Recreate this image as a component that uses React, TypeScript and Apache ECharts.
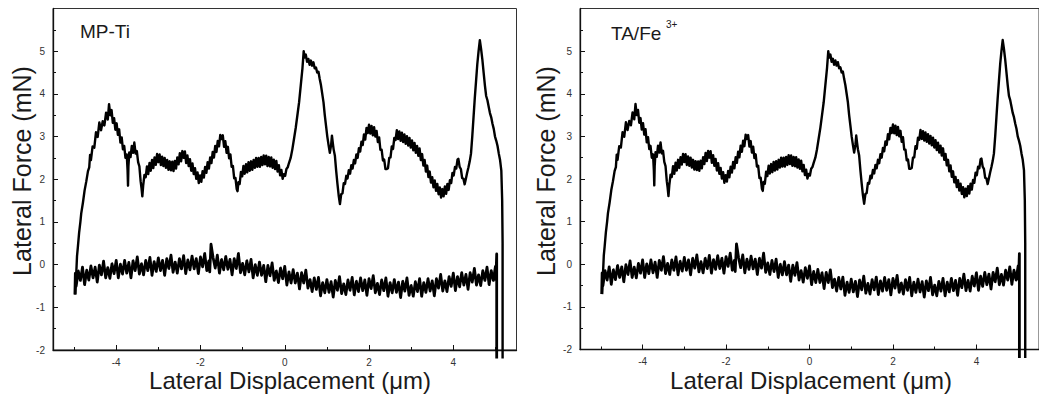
import React, { useEffect, useRef } from "react";
import * as echarts from "echarts";

// Tick values
const dispMajorTicks = [-4, -2, 0, 2, 4];
const dispMinorTicks = [-5, -3, -1, 1, 3, 5];
const forceMajorTicks = [-2, -1, 0, 1, 2, 3, 4, 5];
const forceMinorTicks = [-1.5, -0.5, 0.5, 1.5, 2.5, 3.5, 4.5, 5.5];

const panelTitles = ["MP-Ti", "TA/Fe"];
const panelSups = ["", "3+"];
const xAxisTitle = "Lateral Displacement (\u03bcm)";
const yAxisTitle = "Lateral Force (mN)";

// Forward scan (upper trace): [displacement µm, lateral force mN]
const forwardScan: [number, number][] = [
  [-4.97,-0.7],[-4.95,-0.25],[-4.93,0.2],[-4.91,0.41],[-4.88,0.75],[-4.85,1.0],[-4.83,1.2],[-4.79,1.45],
  [-4.75,1.74],[-4.71,1.95],[-4.67,2.19],[-4.64,2.28],[-4.62,2.57],[-4.6,2.45],[-4.56,2.77],[-4.52,2.74],
  [-4.48,3.1],[-4.44,2.99],[-4.4,3.33],[-4.36,3.15],[-4.32,3.36],[-4.28,3.26],[-4.24,3.56],[-4.2,3.4],
  [-4.17,3.76],[-4.14,3.5],[-4.11,3.62],[-4.08,3.32],[-4.05,3.43],[-4.02,3.16],[-3.99,3.31],[-3.96,3.04],
  [-3.93,3.17],[-3.9,2.86],[-3.87,2.98],[-3.84,2.7],[-3.81,2.78],[-3.78,2.5],[-3.75,2.58],[-3.73,2.2],
  [-3.72,1.85],[-3.71,2.3],[-3.69,2.63],[-3.66,2.52],[-3.63,2.78],[-3.6,2.62],[-3.57,2.86],[-3.54,2.6],
  [-3.51,2.66],[-3.48,2.4],[-3.45,2.3],[-3.42,1.95],[-3.4,1.8],[-3.38,1.6],[-3.36,1.85],[-3.33,2.1],
  [-3.3,2.05],[-3.27,2.3],[-3.24,2.12],[-3.21,2.38],[-3.18,2.2],[-3.15,2.45],[-3.12,2.26],[-3.09,2.51],
  [-3.06,2.34],[-3.03,2.59],[-3.0,2.4],[-2.97,2.58],[-2.94,2.33],[-2.91,2.53],[-2.88,2.31],[-2.85,2.5],
  [-2.82,2.27],[-2.79,2.45],[-2.76,2.22],[-2.73,2.42],[-2.7,2.21],[-2.67,2.41],[-2.64,2.19],[-2.61,2.43],
  [-2.58,2.25],[-2.55,2.51],[-2.52,2.35],[-2.49,2.61],[-2.46,2.42],[-2.43,2.66],[-2.4,2.5],[-2.37,2.65],
  [-2.34,2.38],[-2.31,2.56],[-2.28,2.31],[-2.25,2.47],[-2.22,2.2],[-2.19,2.37],[-2.16,2.12],[-2.13,2.26],
  [-2.1,2.01],[-2.07,2.16],[-2.04,1.91],[-2.01,2.09],[-1.98,1.94],[-1.95,2.19],[-1.92,2.04],[-1.89,2.29],
  [-1.86,2.15],[-1.83,2.4],[-1.8,2.25],[-1.77,2.51],[-1.74,2.38],[-1.71,2.64],[-1.68,2.51],[-1.65,2.78],
  [-1.62,2.64],[-1.59,2.9],[-1.56,2.77],[-1.53,3.04],[-1.5,2.94],[-1.47,3.03],[-1.44,2.76],[-1.41,2.89],
  [-1.38,2.62],[-1.35,2.76],[-1.32,2.49],[-1.29,2.58],[-1.26,2.29],[-1.23,2.31],[-1.2,2.02],[-1.17,2.03],
  [-1.14,1.77],[-1.12,1.72],[-1.1,1.93],[-1.07,1.89],[-1.04,2.17],[-1.01,2.07],[-0.98,2.31],[-0.95,2.13],
  [-0.92,2.35],[-0.89,2.16],[-0.86,2.4],[-0.83,2.2],[-0.8,2.42],[-0.77,2.22],[-0.74,2.45],[-0.71,2.27],
  [-0.68,2.5],[-0.65,2.29],[-0.62,2.5],[-0.59,2.29],[-0.56,2.52],[-0.53,2.33],[-0.5,2.56],[-0.47,2.35],
  [-0.44,2.55],[-0.41,2.31],[-0.38,2.52],[-0.35,2.3],[-0.32,2.51],[-0.29,2.27],[-0.26,2.46],[-0.23,2.24],
  [-0.2,2.43],[-0.17,2.18],[-0.14,2.33],[-0.11,2.09],[-0.08,2.22],[-0.05,2.01],[-0.02,2.12],[0.01,2.08],
  [0.04,2.24],[0.07,2.28],[0.1,2.38],[0.14,2.5],[0.18,2.7],[0.22,2.95],[0.26,3.2],[0.3,3.5],
  [0.34,3.8],[0.38,4.2],[0.42,4.6],[0.45,5.0],[0.47,4.85],[0.5,4.92],[0.53,4.75],[0.56,4.82],
  [0.59,4.68],[0.62,4.78],[0.65,4.66],[0.68,4.74],[0.71,4.6],[0.74,4.62],[0.77,4.5],[0.8,4.52],
  [0.83,4.35],[0.86,4.2],[0.89,4.0],[0.92,3.8],[0.95,3.5],[0.98,3.25],[1.01,3.0],[1.04,2.8],
  [1.07,2.62],[1.1,2.8],[1.12,3.02],[1.14,2.85],[1.16,2.7],[1.19,2.55],[1.22,2.2],[1.25,1.9],
  [1.28,1.62],[1.31,1.42],[1.34,1.65],[1.37,1.67],[1.4,1.91],[1.43,1.89],[1.46,2.08],[1.49,2.02],
  [1.52,2.21],[1.55,2.13],[1.58,2.33],[1.61,2.25],[1.64,2.45],[1.67,2.37],[1.7,2.58],[1.73,2.5],
  [1.76,2.73],[1.79,2.65],[1.82,2.88],[1.85,2.8],[1.88,3.05],[1.91,2.93],[1.94,3.2],[1.97,3.08],
  [2.0,3.28],[2.03,3.07],[2.06,3.25],[2.09,3.03],[2.12,3.22],[2.15,3.0],[2.18,3.13],[2.21,2.87],
  [2.24,2.98],[2.27,2.69],[2.3,2.69],[2.33,2.44],[2.36,2.46],[2.39,2.24],[2.42,2.24],[2.45,2.26],
  [2.48,2.5],[2.51,2.51],[2.54,2.77],[2.57,2.71],[2.6,2.97],[2.63,2.92],[2.66,3.15],[2.69,2.94],
  [2.72,3.12],[2.75,2.9],[2.78,3.09],[2.81,2.87],[2.84,3.05],[2.87,2.83],[2.9,3.01],[2.93,2.79],
  [2.96,2.97],[2.99,2.74],[3.02,2.91],[3.05,2.68],[3.08,2.85],[3.11,2.62],[3.14,2.78],[3.17,2.55],
  [3.2,2.72],[3.23,2.45],[3.26,2.59],[3.29,2.32],[3.32,2.45],[3.35,2.18],[3.38,2.32],[3.41,2.05],
  [3.44,2.18],[3.47,1.92],[3.5,2.05],[3.53,1.81],[3.56,1.97],[3.59,1.73],[3.62,1.89],[3.65,1.65],
  [3.68,1.81],[3.71,1.57],[3.74,1.77],[3.77,1.6],[3.8,1.83],[3.83,1.66],[3.86,1.89],[3.89,1.75],
  [3.92,1.98],[3.95,1.91],[3.98,2.15],[4.01,2.09],[4.04,2.29],[4.07,2.25],[4.1,2.46],[4.12,2.48],
  [4.15,2.29],[4.18,2.24],[4.21,2.03],[4.24,2.01],[4.27,1.88],[4.3,2.02],[4.33,2.16],[4.36,2.28],
  [4.39,2.42],[4.42,2.6],[4.45,3.0],[4.48,3.45],[4.51,3.9],[4.54,4.3],[4.57,4.7],[4.6,5.0],
  [4.63,5.26],[4.66,5.05],[4.69,4.8],[4.72,4.5],[4.75,4.2],[4.78,3.95],[4.81,3.85],[4.84,3.7],
  [4.87,3.55],[4.9,3.45],[4.93,3.3],[4.96,3.18],[4.99,3.0],[5.02,2.9],[5.05,2.78],[5.08,2.6],
  [5.11,2.45],[5.14,2.2],[5.16,1.5],[5.17,0.5],[5.17,-2.2]
];

// Reverse scan (lower trace), from right to left
const reverseScan: [number, number][] = [
  [5.03,-2.2],[5.03,0.25],[5.01,-0.35],[5.0,-0.04],[4.95,-0.37],[4.9,-0.14],[4.85,-0.47],[4.8,-0.06],
  [4.75,-0.37],[4.7,-0.14],[4.65,-0.49],[4.6,-0.24],[4.55,-0.48],[4.5,-0.09],[4.45,-0.41],[4.4,-0.19],
  [4.35,-0.58],[4.3,-0.23],[4.25,-0.48],[4.2,-0.19],[4.15,-0.52],[4.1,-0.28],[4.05,-0.61],[4.0,-0.2],
  [3.95,-0.51],[3.9,-0.28],[3.85,-0.63],[3.8,-0.38],[3.75,-0.62],[3.7,-0.23],[3.65,-0.55],[3.6,-0.33],
  [3.55,-0.73],[3.5,-0.38],[3.45,-0.62],[3.4,-0.33],[3.35,-0.65],[3.3,-0.42],[3.25,-0.74],[3.2,-0.33],
  [3.15,-0.63],[3.1,-0.4],[3.05,-0.74],[3.0,-0.49],[2.95,-0.72],[2.9,-0.31],[2.85,-0.62],[2.8,-0.39],
  [2.75,-0.77],[2.7,-0.41],[2.65,-0.65],[2.6,-0.35],[2.55,-0.66],[2.5,-0.42],[2.45,-0.74],[2.4,-0.31],
  [2.35,-0.61],[2.3,-0.36],[2.25,-0.7],[2.2,-0.44],[2.15,-0.66],[2.1,-0.26],[2.05,-0.56],[2.0,-0.33],
  [1.95,-0.72],[1.9,-0.36],[1.85,-0.61],[1.8,-0.31],[1.75,-0.63],[1.7,-0.39],[1.65,-0.71],[1.6,-0.3],
  [1.55,-0.6],[1.5,-0.36],[1.45,-0.7],[1.4,-0.45],[1.35,-0.68],[1.3,-0.28],[1.25,-0.6],[1.2,-0.37],
  [1.15,-0.76],[1.1,-0.4],[1.05,-0.65],[1.0,-0.35],[0.95,-0.66],[0.9,-0.42],[0.85,-0.73],[0.8,-0.3],
  [0.75,-0.58],[0.7,-0.31],[0.65,-0.63],[0.6,-0.35],[0.55,-0.55],[0.5,-0.13],[0.45,-0.43],[0.4,-0.19],
  [0.35,-0.57],[0.3,-0.2],[0.25,-0.43],[0.2,-0.12],[0.15,-0.43],[0.1,-0.17],[0.05,-0.48],[0.0,-0.04],
  [-0.05,-0.33],[-0.1,-0.08],[-0.15,-0.42],[-0.2,-0.15],[-0.25,-0.37],[-0.3,0.04],[-0.35,-0.26],[-0.4,-0.02],
  [-0.45,-0.4],[-0.5,-0.02],[-0.55,-0.25],[-0.6,0.06],[-0.65,-0.25],[-0.7,0.0],[-0.75,-0.31],[-0.8,0.12],
  [-0.85,-0.17],[-0.9,0.09],[-0.95,-0.24],[-1.0,0.03],[-1.05,-0.19],[-1.1,0.26],[-1.15,-0.09],[-1.2,0.14],
  [-1.25,-0.24],[-1.3,0.12],[-1.35,-0.11],[-1.4,0.19],[-1.45,-0.12],[-1.5,0.12],[-1.55,-0.2],[-1.6,0.22],
  [-1.65,-0.08],[-1.7,0.16],[-1.75,0.48],[-1.78,-0.17],[-1.8,0.09],[-1.85,-0.14],[-1.9,0.26],[-1.95,-0.05],
  [-2.0,0.18],[-2.05,-0.21],[-2.1,0.14],[-2.15,-0.1],[-2.2,0.2],[-2.25,-0.12],[-2.3,0.11],[-2.35,-0.21],
  [-2.4,0.21],[-2.45,-0.1],[-2.5,0.14],[-2.55,-0.2],[-2.6,0.06],[-2.65,-0.18],[-2.7,0.22],[-2.75,-0.09],
  [-2.8,0.14],[-2.85,-0.25],[-2.9,0.1],[-2.95,-0.14],[-3.0,0.16],[-3.05,-0.16],[-3.1,0.07],[-3.15,-0.25],
  [-3.2,0.17],[-3.25,-0.14],[-3.3,0.1],[-3.35,-0.24],[-3.4,0.02],[-3.45,-0.22],[-3.5,0.18],[-3.55,-0.14],
  [-3.6,0.09],[-3.65,-0.31],[-3.7,0.05],[-3.75,-0.2],[-3.8,0.1],[-3.85,-0.22],[-3.9,0.01],[-3.95,-0.31],
  [-4.0,0.1],[-4.05,-0.21],[-4.1,0.02],[-4.15,-0.32],[-4.2,-0.07],[-4.25,-0.31],[-4.3,0.08],[-4.35,-0.24],
  [-4.4,-0.01],[-4.45,-0.41],[-4.5,-0.06],[-4.55,-0.31],[-4.6,-0.03],[-4.65,-0.36],[-4.7,-0.13],[-4.75,-0.47],
  [-4.8,-0.06],[-4.85,-0.37],[-4.9,-0.15],[-4.95,-0.5],[-4.97,-0.2],[-4.98,-0.7]
];

const FONT = "'Liberation Sans', Arial, Helvetica, sans-serif";
const INK = "#111";

const grids = [
  { left: 53, top: 8.5, width: 463.5, height: 341.5 },
  { left: 580, top: 8.5, width: 465, height: 341 },
];

export default function App() {
  const ref = useRef<HTMLDivElement>(null);
  useEffect(() => {
    if (!ref.current) return;
    const chart = echarts.init(ref.current, undefined, { renderer: "svg" });

    const xAxes: any[] = [];
    const yAxes: any[] = [];
    const series: any[] = [];
    const graphics: any[] = [];

    grids.forEach((g, i) => {
      const base = { gridIndex: i, type: "value", min: -5.5, max: 5.5, splitLine: { show: false } };
      xAxes.push({
        ...base,
        position: "bottom",
        axisLine: { show: true, onZero: false, lineStyle: { color: INK, width: 1.3 } },
        axisTick: { show: true, inside: true, length: 5, customValues: dispMajorTicks, lineStyle: { color: INK, width: 1 } },
        axisLabel: { show: true, customValues: dispMajorTicks, fontSize: 10, color: "#333", margin: 7, fontFamily: FONT },
      });
      xAxes.push({
        ...base,
        position: "bottom",
        axisLine: { show: false, onZero: false },
        axisTick: { show: true, inside: true, length: 3, customValues: dispMinorTicks, lineStyle: { color: INK, width: 1 } },
        axisLabel: { show: false },
      });
      const ybase = { gridIndex: i, type: "value", min: -2, max: 6, splitLine: { show: false } };
      yAxes.push({
        ...ybase,
        position: "left",
        axisLine: { show: true, onZero: false, lineStyle: { color: INK, width: 1.3 } },
        axisTick: { show: true, inside: true, length: 5, customValues: forceMajorTicks, lineStyle: { color: INK, width: 1 } },
        axisLabel: { show: true, customValues: forceMajorTicks, fontSize: 10, color: "#333", margin: 8, fontFamily: FONT },
      });
      yAxes.push({
        ...ybase,
        position: "left",
        axisLine: { show: false, onZero: false },
        axisTick: { show: true, inside: true, length: 3, customValues: forceMinorTicks, lineStyle: { color: INK, width: 1 } },
        axisLabel: { show: false },
      });
      const common = {
        type: "line",
        xAxisIndex: i * 2,
        yAxisIndex: i * 2,
        showSymbol: false,
        symbol: "none",
        clip: false,
        silent: true,
      };
      series.push({ ...common, name: "forward", data: forwardScan, lineStyle: { color: "#000", width: 2.4, join: "round" } });
      series.push({ ...common, name: "reverse", data: reverseScan, lineStyle: { color: "#000", width: 2.8, join: "round" } });

      graphics.push({
        type: "text",
        x: i === 0 ? 290 : 811,
        y: 380,
        style: { text: xAxisTitle, font: `24px ${FONT}`, fill: "#1a1a1a", align: "center", verticalAlign: "middle" },
      });
      graphics.push({
        type: "text",
        x: i === 0 ? 22 : 546,
        y: 171,
        rotation: Math.PI / 2,
        style: { text: yAxisTitle, font: `25px ${FONT}`, fill: "#1a1a1a", align: "center", verticalAlign: "middle" },
      });
      graphics.push({
        type: "text",
        x: i === 0 ? 80 : 611,
        y: i === 0 ? 31 : 33,
        style: { text: panelTitles[i], font: `19px ${FONT}`, fill: "#1a1a1a", align: "left", verticalAlign: "middle" },
      });
      if (panelSups[i]) {
        graphics.push({
          type: "text",
          x: 666,
          y: 24,
          style: { text: panelSups[i], font: `10px ${FONT}`, fill: "#1a1a1a", align: "left", verticalAlign: "middle" },
        });
      }
    });

    chart.setOption({
      animation: false,
      backgroundColor: "#fff",
      grid: grids.map((g) => ({ ...g, show: true, borderColor: "#333", borderWidth: 1, backgroundColor: "transparent" })),
      xAxis: xAxes,
      yAxis: yAxes,
      series,
      graphic: graphics,
    });
    return () => chart.dispose();
  }, []);

  return (
    <div
      ref={ref}
      style={{ position: "fixed", left: 0, top: 0, width: 1039, height: 402, background: "#fff" }}
    />
  );
}
